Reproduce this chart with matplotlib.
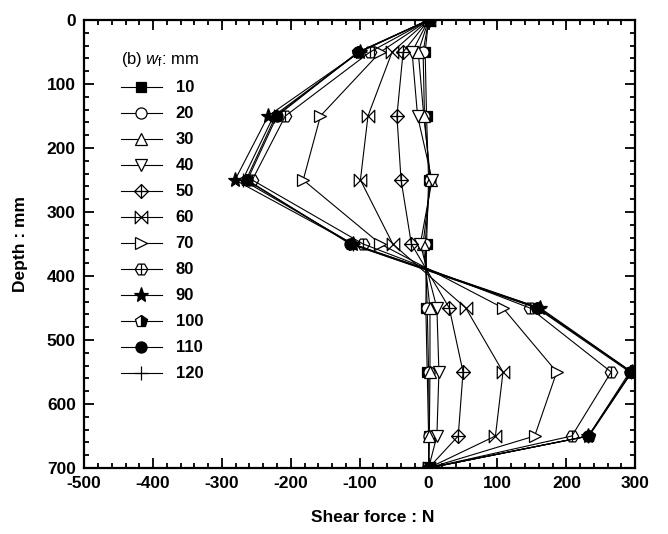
import numpy as np
import matplotlib
matplotlib.use("Agg")
import matplotlib.pyplot as plt
from matplotlib.path import Path
from matplotlib.ticker import MultipleLocator

plt.rcParams['font.family'] = ['Liberation Sans', 'DejaVu Sans']
plt.rcParams['mathtext.fontset'] = 'custom'
plt.rcParams['mathtext.rm'] = 'Liberation Sans'
plt.rcParams['mathtext.it'] = 'Liberation Sans:italic'
plt.rcParams['axes.unicode_minus'] = False

depth = [0, 50, 150, 250, 350, 450, 550, 650, 700]

labels = ["10", "20", "30", "40", "50", "60", "70", "80", "90", "100", "110", "120"]

s10 = [0, -5, -3, 0, -3, -4, -2, 0, 0]
s20 = [0, -8, -6, 2, -5, -2, 0, 1, 0]
s30 = [0, -15, -7, 3, -8, 2, 2, 1, 0]
s40 = [0, -24, -16, 5, -12, 12, 15, 12, 0]
s50 = [0, -37, -46, -40, -25, 30, 50, 43, 0]
s60 = [0, -53, -88, -99, -52, 54, 108, 97, 0]
s70 = [0, -70, -157, -182, -70, 108, 186, 154, 0]
s80 = [0, -85, -208, -256, -95, 147, 265, 208, 0]
s90 = [0, -100, -233, -281, -110, 162, 295, 232, 0]
s100 = [0, -102, -222, -265, -112, 158, 295, 233, 0]
s110 = [0, -102, -220, -263, -114, 157, 292, 232, 0]
s120 = [0, -100, -225, -270, -110, 160, 294, 232, 0]

series = [s10, s20, s30, s40, s50, s60, s70, s80, s90, s100, s110, s120]

# custom marker shapes
M, L, C = Path.MOVETO, Path.LINETO, Path.CLOSEPOLY
diamond_plus = Path(
    [(0, 1), (1, 0), (0, -1), (-1, 0), (0, 1), (0, 1), (0, -1), (-1, 0), (1, 0)],
    [M, L, L, L, C, M, L, M, L])
bowtie_x = Path(
    [(-1, -1), (1, 1), (1, -1), (-1, 1), (-1, -1)],
    [M, L, L, L, C])
hx = [(np.cos(a), np.sin(a)) for a in np.deg2rad([0, 60, 120, 180, 240, 300])]
hex_line = Path(
    hx + [hx[0], (0, np.sin(np.pi / 3)), (0, -np.sin(np.pi / 3))],
    [M, L, L, L, L, L, C, M, L])

styles = [
    dict(marker='s', mfc='black', ms=7),
    dict(marker='o', mfc='white', ms=8),
    dict(marker='^', mfc='white', ms=8),
    dict(marker='v', mfc='white', ms=8),
    dict(marker=diamond_plus, mfc='none', ms=10),
    dict(marker=bowtie_x, mfc='none', ms=9),
    dict(marker='>', mfc='white', ms=8),
    dict(marker=hex_line, mfc='none', ms=9),
    dict(marker='*', mfc='black', ms=11),
    dict(marker='p', mfc='black', mfcalt='white', fillstyle='right', ms=9),
    dict(marker='o', mfc='black', ms=8),
    dict(marker='+', ms=10),
]

fig = plt.figure(figsize=(6.68, 5.34), dpi=100)
ax = fig.add_axes([0.126, 0.1236, 0.825, 0.839])

for vals, lab, st in zip(series, labels, styles):
    ax.plot(vals, depth, color='black', lw=0.8, mec='black', mew=0.9,
            label=lab, **st)

ax.set_xlim(-500, 300)
ax.set_ylim(700, 0)
ax.xaxis.set_major_locator(MultipleLocator(100))
ax.xaxis.set_minor_locator(MultipleLocator(20))
ax.yaxis.set_major_locator(MultipleLocator(100))
ax.yaxis.set_minor_locator(MultipleLocator(20))
ax.tick_params(which='both', direction='in', top=True, right=True, width=1.3)
ax.tick_params(which='major', length=7, labelsize=12.5, pad=6)
ax.tick_params(which='minor', length=3.5)
for lab in ax.get_xticklabels() + ax.get_yticklabels():
    lab.set_fontweight('bold')
for sp in ax.spines.values():
    sp.set_linewidth(1.6)

ax.set_xlabel("Shear force : N", fontsize=12.5, fontweight='bold')
ax.set_ylabel("Depth : mm", fontsize=12.5, fontweight='bold')
ax.xaxis.set_label_coords(0.523, -0.094)
ax.yaxis.set_label_coords(-0.102, 0.5)

leg = ax.legend(loc='upper left', bbox_to_anchor=(0.066, 0.932), frameon=False,
                title=r"(b) $\mathit{w}_{\mathrm{f}}$: mm", title_fontsize=12,
                prop={'weight': 'bold', 'size': 12}, handlelength=2.5,
                handletextpad=0.8, labelspacing=0.66, borderpad=0,
                borderaxespad=0, alignment='left')

fig.savefig("out.png", dpi=100)
